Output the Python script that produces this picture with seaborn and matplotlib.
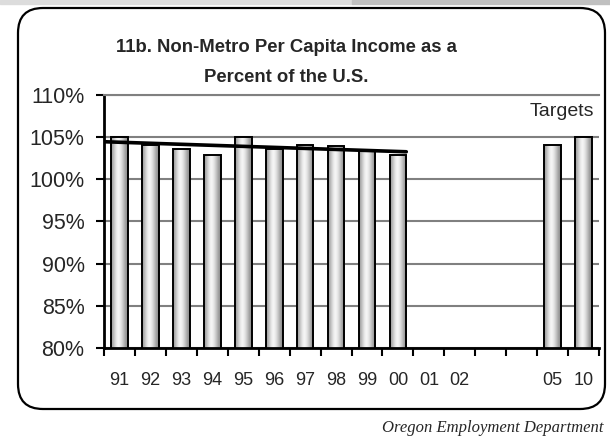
import seaborn as sns
import matplotlib.pyplot as plt
import matplotlib.patches as mpatches
import numpy as np
import pandas as pd

# Chart data
years = ['91', '92', '93', '94', '95', '96', '97', '98', '99', '00',
         '01', '02', '03', '04', '05', '10']
tick_labels = ['91', '92', '93', '94', '95', '96', '97', '98', '99', '00',
               '01', '02', '', '', '05', '10']
pct_of_us = [105.0, 104.1, 103.6, 102.9, 105.0, 103.6, 104.1, 103.9, 103.4, 102.9,
             np.nan, np.nan, np.nan, np.nan, 104.1, 105.0]
n_actual = 10  # years 91-00 are actual values, the trend line uses these
y_ticks = [80, 85, 90, 95, 100, 105, 110]
y_tick_labels = ['80%', '85%', '90%', '95%', '100%', '105%', '110%']

df = pd.DataFrame({'year': years, 'pct': pct_of_us}).dropna()
bar_w = 0.54

sns.set_style('white')
plt.rcParams['font.family'] = ['Liberation Sans', 'DejaVu Sans']

fig = plt.figure(figsize=(6.1, 4.38), dpi=100)
ax = fig.add_axes([0.1705, 0.2055, 0.8115, 0.5776])

sns.barplot(data=df, x='year', y='pct', order=years, width=bar_w,
            color='white', edgecolor='black', linewidth=1.4, ax=ax, zorder=3)

# cylinder-like shading inside each bar
shade = np.array([[0.62, 0.72, 0.84, 0.93, 0.97, 0.92, 0.84, 0.74, 0.63, 0.56]])
for bar in ax.patches:
    h = bar.get_height()
    if not np.isfinite(h) or h <= 0:
        continue
    x0, w = bar.get_x(), bar.get_width()
    bar.set_facecolor('none')
    im = ax.imshow(shade, cmap='gray', vmin=0, vmax=1, aspect='auto',
                   extent=[x0, x0 + w, 80, h], zorder=2.5, interpolation='bicubic')
    im.set_clip_path(bar)

# linear trend over the actual years (axis edge to right edge of the last bar)
xs = np.arange(n_actual)
slope, icpt = np.polyfit(xs, pct_of_us[:n_actual], 1)
tx = np.array([-0.5, n_actual - 1 + bar_w / 2])
ax.plot(tx, icpt + slope * tx, color='black', lw=2.6, zorder=4)

ax.set_xlim(-0.5, len(years) - 0.5)
ax.set_ylim(80, 110)
ax.set_yticks(y_ticks)
ax.set_yticklabels(y_tick_labels, fontsize=15.5)
ax.set_xticks(range(len(years)))
ax.set_xticklabels(tick_labels, fontsize=13)
ax.set_xticks(np.arange(-0.5, len(years)), minor=True)
ax.tick_params(axis='x', which='major', length=0, pad=17, bottom=True)
ax.tick_params(axis='x', which='minor', length=6, width=1.5, color='black',
               direction='out', bottom=True)
ax.tick_params(axis='y', length=6, width=1.5, color='black', direction='out', pad=8, left=True)
ax.set_xlabel('')
ax.set_ylabel('')

ax.grid(axis='y', color='#808080', lw=1.5, zorder=1)
ax.set_axisbelow(True)
for side in ['left', 'bottom']:
    ax.spines[side].set_color('black')
    ax.spines[side].set_linewidth(2)
ax.spines['top'].set_color('#808080')
ax.spines['top'].set_linewidth(1.5)
ax.spines['right'].set_visible(False)

ax.text(14.3, 108.1, 'Targets', fontsize=14, ha='center', va='center')

fig.text(286 / 610, 1 - 47 / 438, '11b. Non-Metro Per Capita Income as a',
         fontsize=13.3, fontweight='bold', ha='center', va='center')
fig.text(286 / 610, 1 - 77 / 438, 'Percent of the U.S.',
         fontsize=13.3, fontweight='bold', ha='center', va='center')

# rounded frame around the chart (inch coordinates)
frame = mpatches.FancyBboxPatch((0.18, 0.29), 5.87, 4.01,
                                boxstyle='round,pad=0,rounding_size=0.25',
                                transform=fig.dpi_scale_trans, fill=False,
                                edgecolor='black', lw=1.6)
fig.patches.append(frame)

# grey strip at the very top of the page
fig.patches.append(mpatches.Rectangle((0, 1 - 4 / 438), 352 / 610, 4 / 438,
                                      transform=fig.transFigure, color='#dcdcdc'))
fig.patches.append(mpatches.Rectangle((352 / 610, 1 - 4 / 438), 258 / 610, 4 / 438,
                                      transform=fig.transFigure, color='#c0c0c0'))

fig.text(603 / 610, 1 - 428 / 438, 'Oregon Employment Department',
         fontsize=12, fontstyle='italic', family='Liberation Serif',
         ha='right', va='center')

plt.savefig('out.png', dpi=100)
